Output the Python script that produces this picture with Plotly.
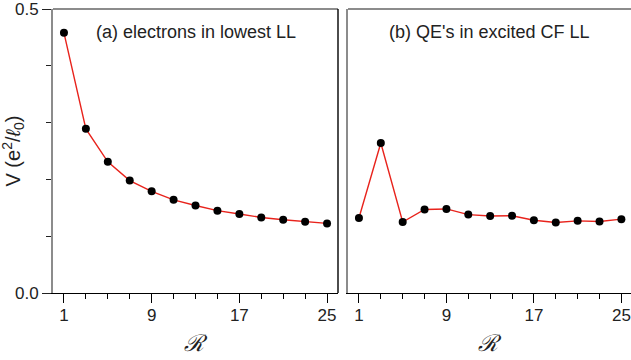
import plotly.graph_objects as go

# Interaction range R (odd values 1..25)
r_values = [1, 3, 5, 7, 9, 11, 13, 15, 17, 19, 21, 23, 25]

# (a) electrons in lowest Landau level
v_electrons = [0.458, 0.289, 0.231, 0.198, 0.179, 0.164, 0.154,
               0.145, 0.139, 0.133, 0.129, 0.1255, 0.1225]

# (b) quasielectrons in excited composite-fermion Landau level
v_qe = [0.132, 0.264, 0.125, 0.147, 0.148, 0.138, 0.1355,
        0.136, 0.128, 0.124, 0.127, 0.126, 0.130]

panel_labels = ["(a) electrons in lowest LL", "(b) QE's in excited CF LL"]
x_tickvals = [1, 9, 17, 25]
y_tickvals = [0.0, 0.5]
y_ticktext = ["0.0", "0.5"]

FONT = "Liberation Sans, Arial, Helvetica, sans-serif"
RED = "#e8231c"
GRAY = "#8c8c8c"

fig = go.Figure()
for i, vals in enumerate([v_electrons, v_qe]):
    sfx = "" if i == 0 else "2"
    fig.add_trace(go.Scatter(
        x=r_values, y=vals, mode="lines+markers",
        line=dict(color=RED, width=1.4),
        marker=dict(color="black", size=8),
        xaxis="x" + sfx, yaxis="y" + sfx, showlegend=False,
        cliponaxis=False,
    ))

W, H = 631, 360
L, R, T, B = 53, 0, 9, 67
pw = W - L - R
dom_a = [0, 285 / pw]
dom_b = [295 / pw, 1]

xcommon = dict(
    tickmode="array", tickvals=x_tickvals,
    ticks="outside", ticklen=9, tickwidth=1.2, tickcolor="black",
    minor=dict(tickmode="linear", tick0=1, dtick=2, ticks="outside",
               ticklen=5, tickwidth=1.2, tickcolor="black"),
    showline=True, linecolor="black", linewidth=1.4,
    showgrid=False, zeroline=False, ticklabelstandoff=-3,
    tickfont=dict(family=FONT, size=17, color="#222"),
)
ycommon = dict(
    range=[0, 0.5],
    tickmode="array", tickvals=y_tickvals, ticktext=y_ticktext,
    ticks="outside", ticklen=9, tickwidth=1.2, tickcolor="#222",
    minor=dict(tickmode="linear", tick0=0, dtick=0.1, ticks="outside",
               ticklen=5, tickwidth=1.2, tickcolor="#222"),
    showline=True, linecolor=GRAY, linewidth=2,
    showgrid=False, zeroline=False, ticklabeloverflow="allow",
    tickfont=dict(family=FONT, size=17, color="#222"),
)

fig.update_layout(
    width=W, height=H,
    margin=dict(l=L, r=R, t=T, b=B),
    paper_bgcolor="white", plot_bgcolor="white",
    xaxis=dict(domain=dom_a, range=[0, 26], anchor="y", **xcommon),
    yaxis=dict(domain=[0, 1], anchor="x", **ycommon),
    xaxis2=dict(domain=dom_b, range=[0, 25.88], anchor="y2", **xcommon),
    yaxis2=dict(domain=[0, 1], anchor="x2", showticklabels=False,
                **{k: v for k, v in ycommon.items()
                   if k not in ("ticks", "minor", "tickfont")},
                ticks=""),
)

shapes = []
# top frame lines
for xr in ["x domain", "x2 domain"]:
    shapes.append(dict(type="line", xref=xr, yref="y domain", x0=0, x1=1,
                       y0=1, y1=1, line=dict(color=GRAY, width=2)))
# right frame line of panel (a)
shapes.append(dict(type="line", xref="x domain", yref="y domain", x0=1, x1=1,
                   y0=0, y1=1, line=dict(color="black", width=1.4)))
fig.update_layout(shapes=shapes)

annotations = []
for xr, label in zip(["x domain", "x2 domain"], panel_labels):
    annotations.append(dict(text=label, xref=xr, yref="paper", x=0.5, y=0.92,
                            xanchor="center", yanchor="middle", showarrow=False,
                            font=dict(family=FONT, size=18, color="#222")))
    annotations.append(dict(text="<i>ℛ</i>", xref=xr, yref="paper", x=0.5,
                            y=-0.175, xanchor="center", yanchor="middle",
                            showarrow=False,
                            font=dict(family="DejaVu Serif, serif", size=23,
                                      color="#222")))
annotations.append(dict(text="V (e<sup>2</sup>/<i>ℓ</i><sub>0</sub>)",
                        xref="paper", yref="paper", x=-0.07, y=0.5,
                        xanchor="center", yanchor="middle", textangle=-90,
                        showarrow=False,
                        font=dict(family=FONT, size=20, color="#222")))
fig.update_layout(annotations=annotations)

fig.write_html("out.html")
